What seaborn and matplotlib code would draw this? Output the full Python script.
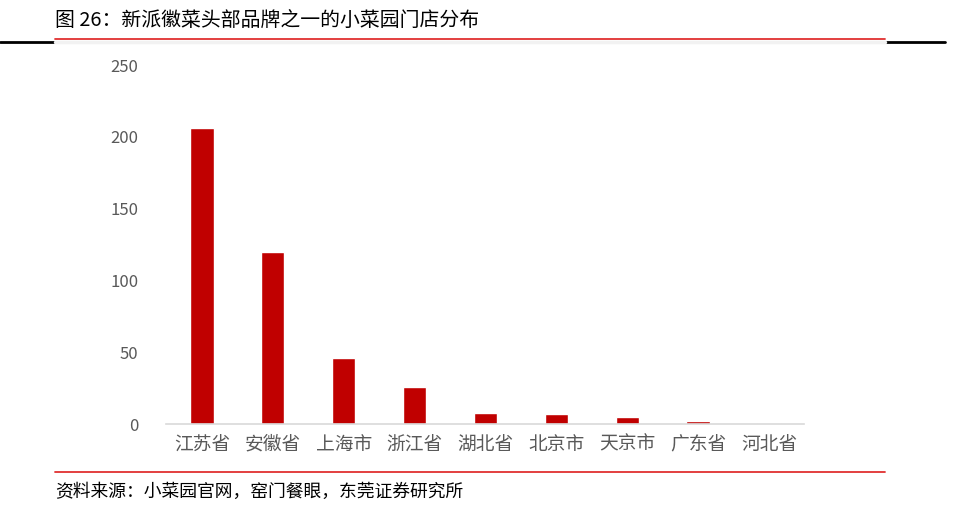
import matplotlib
matplotlib.use("Agg")
import matplotlib.pyplot as plt
import seaborn as sns
import pandas as pd
from matplotlib.lines import Line2D

provinces = ['江苏省', '安徽省', '上海市', '浙江省', '湖北省', '北京市', '天京市', '广东省', '河北省']
stores = [206, 120, 46, 26, 8, 7, 5, 2, 1]
y_ticks = [0, 50, 100, 150, 200, 250]

title = '图 26：新派徽菜头部品牌之一的小菜园门店分布'
source = '资料来源：小菜园官网，窑门餐眼，东莞证券研究所'

sns.set_style('white')
plt.rcParams['font.family'] = ['Noto Sans CJK SC', 'DejaVu Sans']

df = pd.DataFrame({'省市': provinces, '门店数': stores})

fig = plt.figure(figsize=(9.6, 5.14), dpi=100)
ax = fig.add_axes([0.1734, 0.175, 0.6646, 0.6985])

sns.barplot(data=df, x='省市', y='门店数', color='#C00000', width=0.33,
            saturation=1, ax=ax)

ax.set_ylim(0, 250)
ax.set_yticks(y_ticks)
ax.set_xlabel('')
ax.set_ylabel('')
ax.tick_params(axis='y', length=0, labelsize=12, colors='#595959', pad=20)
ax.tick_params(axis='x', length=0, labelsize=13.5, colors='#595959', pad=7)
for s in ['top', 'right', 'left']:
    ax.spines[s].set_visible(False)
ax.spines['bottom'].set_color('#d9d9d9')
ax.spines['bottom'].set_linewidth(1.2)

# 标题和分隔线
fig.text(55 / 960, 1 - 20 / 514, title, fontsize=14.3, va='center', ha='left', color='black')
fig.add_artist(Line2D([0, 945 / 960], [1 - 42 / 514] * 2, color='black', lw=2))
fig.add_artist(Line2D([55 / 960, 885 / 960], [1 - 41.5 / 514] * 2, color='#f2f2f2', lw=2.5))
fig.add_artist(Line2D([55 / 960, 885 / 960], [1 - 38.5 / 514] * 2, color='#E03030', lw=1.3))

fig.add_artist(Line2D([55 / 960, 885 / 960], [1 - 472 / 514] * 2, color='#E03030', lw=1.3))
fig.text(55 / 960, 1 - 492 / 514, source, fontsize=12.8, va='center', ha='left', color='black')

fig.savefig('out.png', dpi=100)
plt.close(fig)
